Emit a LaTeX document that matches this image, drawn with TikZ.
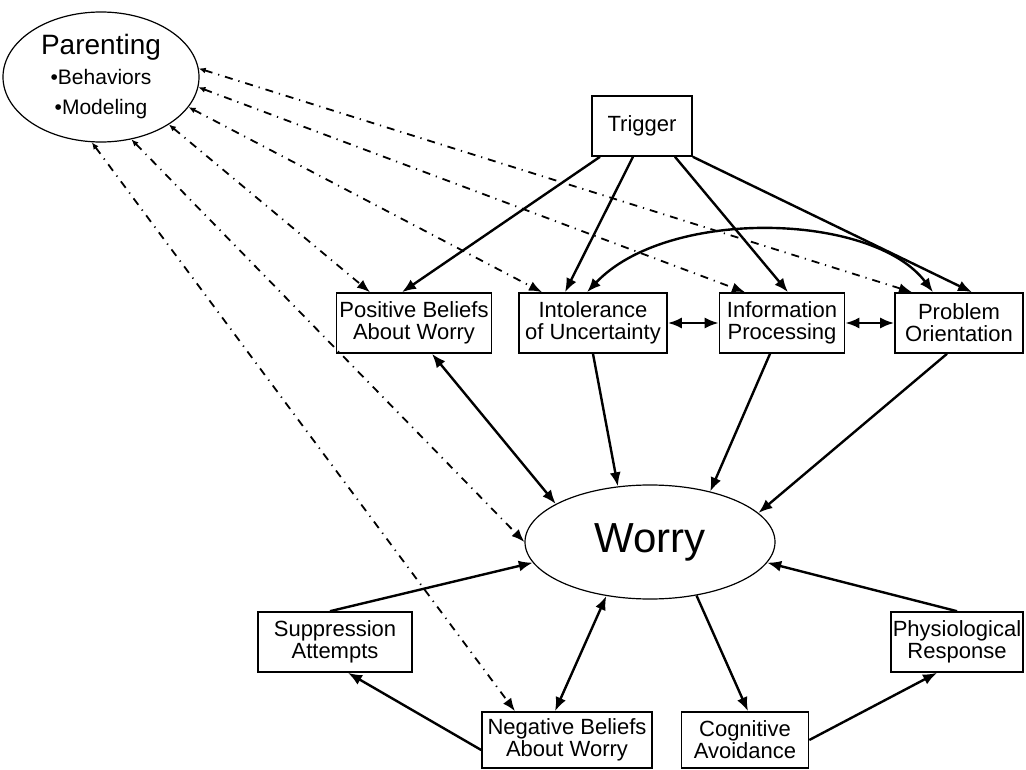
\documentclass[tikz,border=0pt]{standalone}
\usepackage{fontspec}
\setmainfont{Liberation Sans}
\usetikzlibrary{arrows.meta,shapes.geometric}

\begin{document}
\begin{tikzpicture}[x=1pt,y=-1pt,
    >={Latex[length=14pt,width=11pt]},
    factor/.style={draw, line width=1.6pt, align=center, minimum height=60pt, inner sep=2pt, font=\fontsize{22}{22}\selectfont},
    bubble/.style={draw, ellipse, line width=1.2pt, inner sep=0pt, align=center},
    link/.style={line width=2.4pt, ->},
    both/.style={line width=2.4pt, <->},
    parentlink/.style={line width=1.8pt, dash pattern=on 8pt off 6pt on 1.2pt off 6pt, {Latex[length=7pt,width=6pt]}-{Latex[length=13pt,width=10pt]}}]
    \useasboundingbox (0,0) rectangle (1026,770);

    % Ellipses
    \node[bubble, minimum width=196pt, minimum height=130pt, font=\fontsize{21}{30}\selectfont] (par) at (101,77)
        {{\fontsize{28}{30}\selectfont Parenting}\\ •Behaviors\\ •Modeling};
    \node[bubble, minimum width=250pt, minimum height=114pt, font=\fontsize{42}{42}\selectfont] (worry) at (650,542) {Worry};

    % Top row
    \node[factor, minimum width=100pt] (trig) at (642,126) {Trigger};
    \node[factor, minimum width=155pt] (pos) at (414,323) {Positive Beliefs\\About Worry};
    \node[factor, minimum width=148pt] (intol) at (593,323) {Intolerance\\of Uncertainty};
    \node[factor, minimum width=125pt] (info) at (782,323) {Information\\Processing};
    \node[factor, minimum width=128pt] (prob) at (959,323) {Problem\\Orientation};

    % Bottom row
    \node[factor, minimum width=154pt] (supp) at (335,642) {Suppression\\Attempts};
    \node[factor, minimum width=130pt] (phys) at (957,642) {Physiological\\Response};
    \node[factor, minimum width=170pt, minimum height=56pt] (neg) at (567,740) {Negative Beliefs\\About Worry};
    \node[factor, minimum width=127pt, minimum height=56pt] (cog) at (745,740) {Cognitive\\Avoidance};

    % Parenting links
    \draw[parentlink] (par.5) -- ([xshift=-47pt]prob.north);
    \draw[parentlink] (par.354) -- ([xshift=-37pt]info.north);
    \draw[parentlink] (par.341) -- ([xshift=-51pt]intol.north);
    \draw[parentlink] (par.325) -- ([xshift=-44pt]pos.north);
    \draw[parentlink] (par.296) -- (worry.180);
    \draw[parentlink] (par.262) -- ([xshift=-52pt]neg.north);

    % Trigger
    \draw[link] ([xshift=-42pt]trig.south) -- ([xshift=-12pt]pos.north);
    \draw[link] ([xshift=-9pt]trig.south) -- ([xshift=-28pt]intol.north);
    \draw[link] ([xshift=33pt]trig.south) -- ([xshift=6pt]info.north);
    \draw[link] (trig.south east) -- ([xshift=13pt]prob.north);

    % Between the factors
    \draw[both] ([xshift=-6pt]intol.north) .. controls +(80,-85) and +(-60,-80) .. ([xshift=-26pt]prob.north);
    \draw[both] (intol.east) -- (info.west);
    \draw[both] (info.east) -- (prob.west);

    % Into Worry
    \draw[both] ([xshift=18pt]pos.south) -- (worry.158);
    \draw[link] (intol.south) -- (worry.120);
    \draw[link] ([xshift=-12pt]info.south) -- (worry.40);
    \draw[link] ([xshift=-12pt]prob.south) -- (worry.15);
    \draw[link] ([xshift=-5pt]supp.north) -- (worry.190);
    \draw[link] (phys.north) -- (worry.350);
    \draw[both] ([xshift=-12pt]neg.north) -- (worry.231);

    % Out of Worry
    \draw[link] (worry.311) -- ([xshift=3pt]cog.north);
    \draw[link] ([yshift=-10pt]neg.west) -- ([xshift=13pt]supp.south);
    \draw[link] (cog.east) -- ([xshift=-20pt]phys.south);
\end{tikzpicture}
\end{document}
